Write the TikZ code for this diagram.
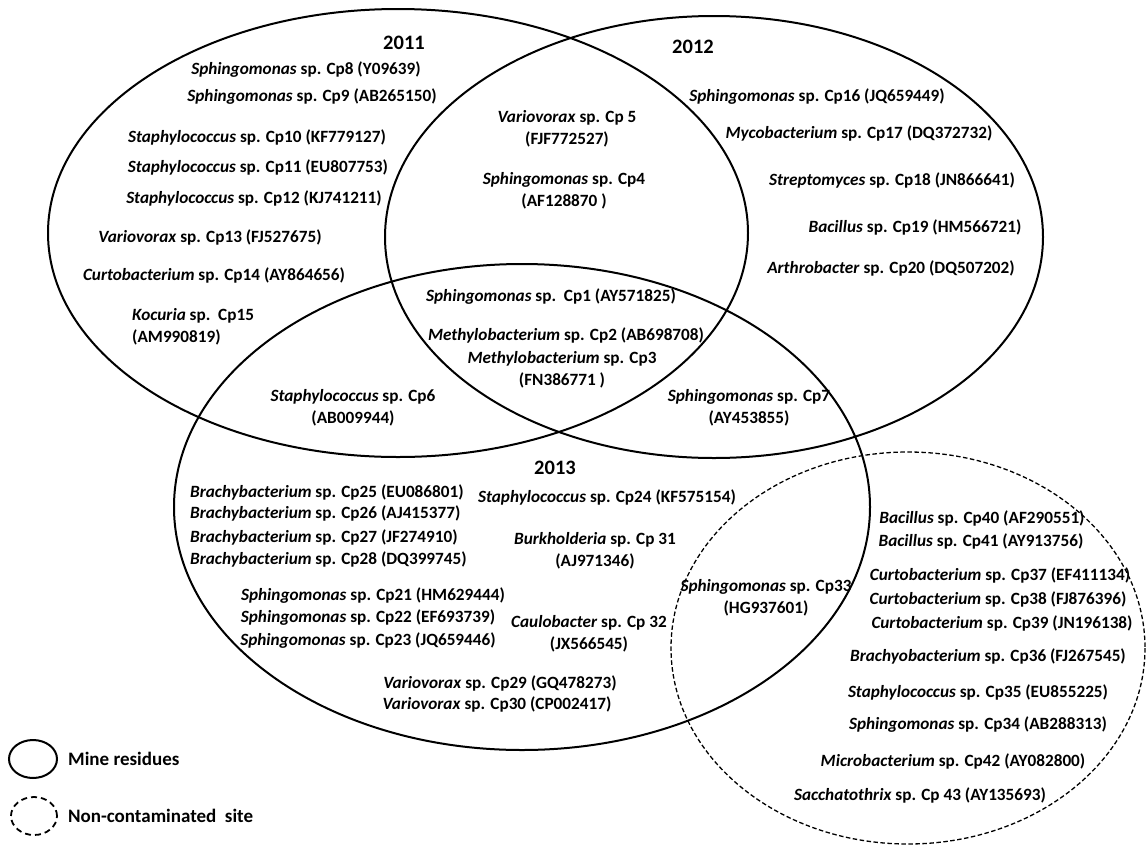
\documentclass[tikz,border=0pt]{standalone}
\usepackage{fontspec}
\setmainfont{Carlito}
\usepackage{tikz}
\usetikzlibrary{positioning,shapes.geometric}
\newcommand{\gen}[1]{\textit{#1}}

\begin{document}
\begin{tikzpicture}[x=1pt, y=-1pt,
  every node/.style = {align=center, inner sep=0pt,
    font=\fontsize{17.2}{21.5}\selectfont\bfseries},
  mine/.style = {draw, line width=2pt},
  clean/.style = {draw, line width=1.3pt, dash pattern=on 4.5pt off 2.5pt},
  year/.style = {font=\fontsize{20.5}{24}\selectfont\bfseries},
  legtext/.style = {font=\fontsize{19}{22}\selectfont\bfseries}
  ]
  \useasboundingbox (0,0) rectangle (1146,844);
  % sampling years and the clean site
  \draw[mine] (398,233) ellipse [x radius=350, y radius=224];
  \draw[mine] (714,237) ellipse [x radius=329, y radius=221];
  \draw[mine] (522,507) ellipse [x radius=348, y radius=243];
  \draw[clean] (908,648) ellipse [x radius=237, y radius=196];
  \node[year] (y2011) at (404,43) {2011};
  \node[year] (y2012) at (693,47) {2012};
  \node[year] (y2013) at (555,468) {2013};
  % 2011 only
  \node (cp8) at (306,70) {\gen{Sphingomonas} sp. Cp8 (Y09639)};
  \node (cp9) at (312,97) {\gen{Sphingomonas} sp. Cp9 (AB265150)};
  \node (cp10) at (257,137) {\gen{Staphylococcus} sp. Cp10 (KF779127)};
  \node (cp11) at (258,167) {\gen{Staphylococcus} sp. Cp11 (EU807753)};
  \node (cp12) at (254,198) {\gen{Staphylococcus} sp. Cp12 (KJ741211)};
  \node (cp13) at (210,237) {\gen{Variovorax} sp. Cp13 (FJ527675)};
  \node (cp14) at (214,275) {\gen{Curtobacterium} sp. Cp14 (AY864656)};
  \node[anchor=west, align=left] (cp15) at (132,327) {\gen{Kocuria} sp.~\ Cp15\\(AM990819)};
  % 2011 and 2012
  \node (cp5) at (567,129) {\gen{Variovorax} sp. Cp 5\\(FJF772527)};
  \node (cp4) at (564,191) {\gen{Sphingomonas} sp. Cp4\\(AF128870 )};
  % all three years
  \node (cp1) at (551,297) {\gen{Sphingomonas} sp.~\ Cp1 (AY571825)};
  \node (cp2) at (566,335) {\gen{Methylobacterium} sp. Cp2 (AB698708)};
  \node (cp3) at (562,370) {\gen{Methylobacterium} sp. Cp3\\(FN386771 )};
  % 2011 and 2013, 2012 and 2013
  \node (cp6) at (353,408) {\gen{Staphylococcus} sp. Cp6\\(AB009944)};
  \node (cp7) at (749,408) {\gen{Sphingomonas} sp. Cp7\\(AY453855)};
  % 2012 only
  \node (cp16) at (817,97) {\gen{Sphingomonas} sp. Cp16 (JQ659449)};
  \node (cp17) at (859,133) {\gen{Mycobacterium} sp. Cp17 (DQ372732)};
  \node (cp18) at (892,180) {\gen{Streptomyces} sp. Cp18 (JN866641)};
  \node (cp19) at (915,227) {\gen{Bacillus} sp. Cp19 (HM566721)};
  \node (cp20) at (891,268) {\gen{Arthrobacter} sp. Cp20 (DQ507202)};
  % 2013 only
  \node[anchor=west] (cp25) at (190,492) {\gen{Brachybacterium} sp. Cp25 (EU086801)};
  \node[anchor=west] (cp26) at (190,513) {\gen{Brachybacterium} sp. Cp26 (AJ415377)};
  \node[anchor=west] (cp27) at (190,537) {\gen{Brachybacterium} sp. Cp27 (JF274910)};
  \node[anchor=west] (cp28) at (190,559) {\gen{Brachybacterium} sp. Cp28 (DQ399745)};
  \node (cp24) at (607,497) {\gen{Staphylococcus} sp. Cp24 (KF575154)};
  \node (cp31) at (595,551) {\gen{Burkholderia} sp. Cp 31\\(AJ971346)};
  \node (cp21) at (373,596) {\gen{Sphingomonas} sp. Cp21 (HM629444)};
  \node (cp22) at (368,618) {\gen{Sphingomonas} sp. Cp22 (EF693739)};
  \node (cp23) at (368,641) {\gen{Sphingomonas} sp. Cp23 (JQ659446)};
  \node (cp32) at (589,634) {\gen{Caulobacter} sp. Cp 32\\(JX566545)};
  \node (cp29) at (500,683) {\gen{Variovorax} sp. Cp29 (GQ478273)};
  \node (cp30) at (497,704) {\gen{Variovorax} sp. Cp30 (CP002417)};
  % 2013 and clean site
  \node (cp33) at (766,598) {\gen{Sphingomonas} sp. Cp33\\(HG937601)};
  % clean site only
  \node (cp40) at (982,518) {\gen{Bacillus} sp. Cp40 (AF290551)};
  \node (cp41) at (981,541) {\gen{Bacillus} sp. Cp41 (AY913756)};
  \node (cp37) at (1000,575) {\gen{Curtobacterium} sp. Cp37 (EF411134)};
  \node (cp38) at (998,599) {\gen{Curtobacterium} sp. Cp38 (FJ876396)};
  \node (cp39) at (1002,623) {\gen{Curtobacterium} sp. Cp39 (JN196138)};
  \node (cp36) at (988,656) {\gen{Brachyobacterium} sp. Cp36 (FJ267545)};
  \node (cp35) at (978,692) {\gen{Staphylococcus} sp. Cp35 (EU855225)};
  \node (cp34) at (978,725) {\gen{Sphingomonas} sp. Cp34 (AB288313)};
  \node (cp42) at (953,761) {\gen{Microbacterium} sp. Cp42 (AY082800)};
  \node (cp43) at (920,795) {\gen{Sacchatothrix} sp. Cp 43 (AY135693)};
  % legend
  \node[mine, ellipse, minimum width=48pt, minimum height=38pt] (legmine) at (33,759) {};
  \node[legtext, right=10pt of legmine] (txtmine) {Mine residues};
  \node[clean, line width=1.8pt, dash pattern=on 6pt off 4pt, ellipse, minimum width=46pt, minimum height=38pt] (legclean) at (34,816) {};
  \node[legtext, right=10pt of legclean] (txtclean) {Non-contaminated~\ site};
\end{tikzpicture}
\end{document}
